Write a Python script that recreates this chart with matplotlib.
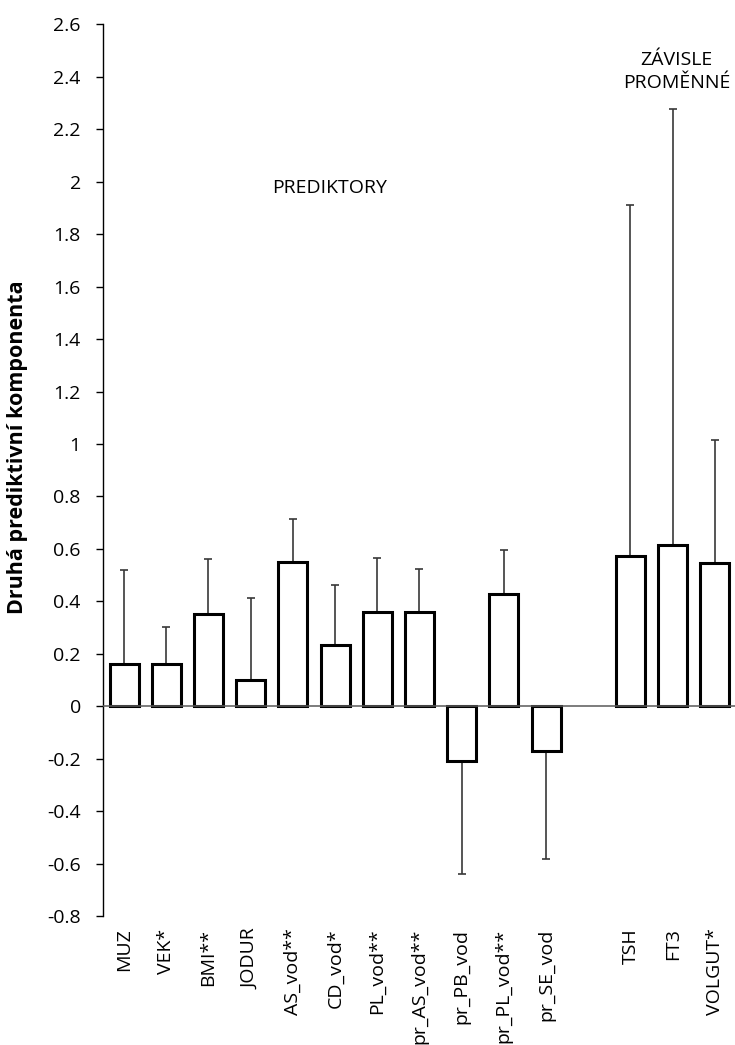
#!/usr/bin/env python3

import numpy as np
import matplotlib
matplotlib.use("Agg")
import matplotlib.pyplot as plt

# ─── GLOBAL STYLE SETTINGS ────────────────────────────────────────────────
plt.rcParams.update({
    "font.family": ["Open Sans", "DejaVu Sans"],
    "font.size": 14,
})

# ─── DATA ────────────────────────────────────────────────────────────────
predictors = ["MUZ", "VEK*", "BMI**", "JODUR", "AS_vod**", "CD_vod*", "PL_vod**",
              "pr_AS_vod**", "pr_PB_vod", "pr_PL_vod**", "pr_SE_vod"]
pred_values = [0.161, 0.160, 0.351, 0.099, 0.550, 0.234, 0.359,
               0.360, -0.210, 0.427, -0.172]
pred_err = [0.358, 0.143, 0.211, 0.313, 0.164, 0.228, 0.206,
            0.163, 0.428, 0.170, 0.409]

dependents = ["TSH", "FT3", "VOLGUT*"]
dep_values = [0.573, 0.614, 0.546]
dep_err = [1.339, 1.663, 0.469]

yticks = np.round(np.arange(-0.8, 2.61, 0.2), 1) + 0.0
ytick_labels = ["0" if abs(v) < 1e-9 else f"{v:g}" for v in yticks]

# one empty slot between the two groups
labels = predictors + dependents
values = np.array(pred_values + dep_values)
errs = np.array(pred_err + dep_err)
pos = np.r_[np.arange(len(predictors)),
            np.arange(len(dependents)) + len(predictors) + 1]

# one-sided error bars (away from zero)
lower = np.where(values < 0, errs, 0)
upper = np.where(values >= 0, errs, 0)

# ─── PLOTTING ─────────────────────────────────────────────────────────────
fig = plt.figure(figsize=(7.35, 10.45), dpi=100)
ax = fig.add_axes([0.1401, 0.1234, 0.8612, 0.8533])

ax.errorbar(pos, values, yerr=[lower, upper], fmt="none",
            ecolor="#383838", elinewidth=1.2, capsize=2.9, capthick=1.2,
            zorder=2)
ax.bar(pos, values, width=0.69, color="white", edgecolor="black",
       linewidth=2.2, zorder=3)
ax.axhline(0, color="#595959", linewidth=1.1, zorder=4)

ax.set_xlim(-0.5, pos[-1] + 0.5)
ax.set_ylim(-0.8, 2.6)
ax.set_yticks(yticks)
ax.set_yticklabels(ytick_labels)
ax.set_xticks(pos)
ax.set_xticklabels(labels, rotation=90)

for s in ["top", "right", "bottom"]:
    ax.spines[s].set_visible(False)
ax.spines["left"].set_linewidth(1.0)
ax.tick_params(axis="y", length=5, width=1.0, pad=11)
ax.tick_params(axis="x", length=0, pad=9)

ax.text(4.87, 1.977, "PREDIKTORY", ha="center", va="center")
ax.text(13.09, 2.42, "ZÁVISLE\nPROMĚNNÉ", ha="center", va="center",
        linespacing=1.4)

fig.text(18 / 735, 1 - 447 / 1045, "Druhá prediktivní komponenta",
         rotation=90, ha="center", va="center", fontsize=15.5, fontweight="bold")

outfile = "out.png"
fig.savefig(outfile, dpi=100)
print(f"Saved plot → {outfile}")
